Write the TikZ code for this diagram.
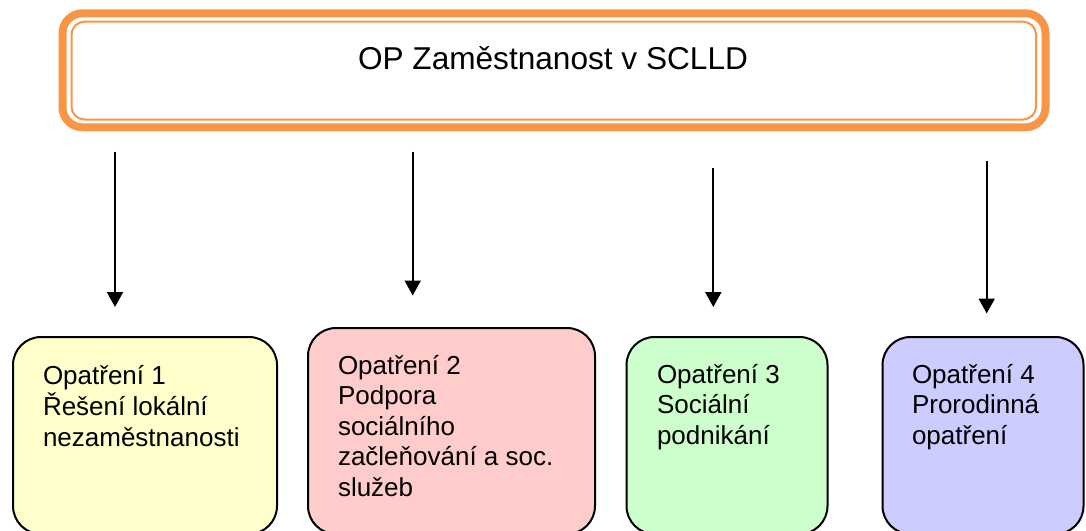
\documentclass[tikz,border=0pt]{standalone}
\usepackage{fontspec}
\setmainfont{Liberation Sans}
\usetikzlibrary{arrows.meta}
\definecolor{orangeb}{HTML}{F79646}
\definecolor{yelf}{HTML}{FFFFCC}
\definecolor{pinkf}{HTML}{FFCCCC}
\definecolor{greenf}{HTML}{CCFFCC}
\definecolor{bluef}{HTML}{CCCCFF}
\tikzset{
  mbox/.style={draw=black, line width=2pt, rounded corners=28pt, outer sep=0pt, inner sep=0pt},
  mtext/.style={anchor=base west, inner sep=0pt, outer sep=0pt, font=\fontsize{26}{30.5}\selectfont},
  conn/.style={line width=2pt, -{Triangle[width=16pt,length=15pt]}}
}
\begin{document}
\begin{tikzpicture}[x=1pt,y=-1pt]
\useasboundingbox (0,0) rectangle (1086,530);
\clip (0,0) rectangle (1086,530);
\fill[white] (0,0) rectangle (1086,530);
% top box
\node[draw=orangeb, line width=8pt, rounded corners=20pt, outer sep=0pt, inner sep=0pt,
      minimum width=983pt, minimum height=114pt] (top) at (554,70.3) {};
\draw[orangeb, line width=2pt, rounded corners=13pt]
  ([shift={(9,8.4)}]top.north west) rectangle ([shift={(-9.5,-7.8)}]top.south east);
\node[anchor=base, inner sep=0pt, font=\fontsize{31.6}{36}\selectfont] (title) at (553,69) {OP Zaměstnanost v SCLLD};
% bottom boxes
\node[mbox, fill=yelf, minimum width=264pt, minimum height=197pt] (b1) at (145,435.5) {};
\node[mbox, fill=pinkf, minimum width=287pt, minimum height=206pt] (b2) at (451.5,431) {};
\node[mbox, fill=greenf, minimum width=201pt, minimum height=197pt] (b3) at (727,435.5) {};
\node[mbox, fill=bluef, minimum width=201pt, minimum height=197pt] (b4) at (983,435.5) {};
\node[mtext] (t1) at (43,384) {\begin{tabular}[t]{@{}l@{}}Opatření 1\\Řešení lokální\\nezaměstnanosti\end{tabular}};
\node[mtext] (t2) at (338,374) {\begin{tabular}[t]{@{}l@{}}Opatření 2\\Podpora\\sociálního\\začleňování a soc.\\služeb\end{tabular}};
\node[mtext] (t3) at (657,383) {\begin{tabular}[t]{@{}l@{}}Opatření 3\\Sociální\\podnikání\end{tabular}};
\node[mtext] (t4) at (912,383) {\begin{tabular}[t]{@{}l@{}}Opatření 4\\Prorodinná\\opatření\end{tabular}};
% arrows
\coordinate (a1s) at (115,151.7); \coordinate (a1e) at (115,307);
\coordinate (a2s) at (412.7,151.7); \coordinate (a2e) at (412.7,295.5);
\coordinate (a3s) at (713.3,168.3); \coordinate (a3e) at (713.3,307);
\coordinate (a4s) at (986.7,161); \coordinate (a4e) at (986.7,313.5);
\draw[conn] (a1s) -- (a1e);
\draw[conn] (a2s) -- (a2e);
\draw[conn] (a3s) -- (a3e);
\draw[conn] (a4s) -- (a4e);
\end{tikzpicture}
\end{document}
